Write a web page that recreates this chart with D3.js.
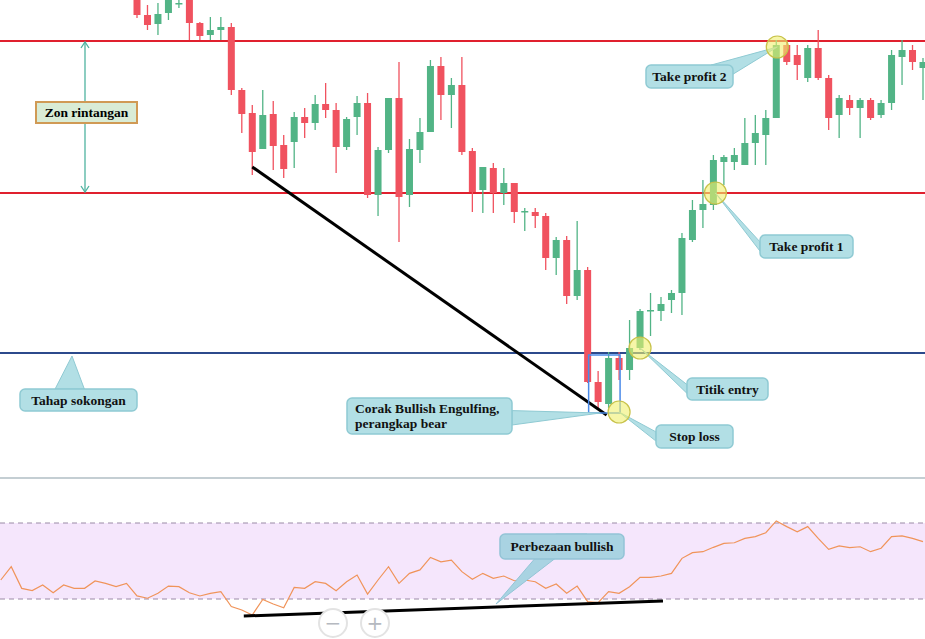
<!DOCTYPE html>
<html><head><meta charset="utf-8">
<script src="https://cdn.jsdelivr.net/npm/d3@7"></script>
<style>body{margin:0;background:#fff}svg{display:block}</style></head>
<body><svg id="c" width="925" height="639"></svg>
<script>
// candle data: [open, high, low, close]
const candles = [
[1000,1002,982,985],[985,995,970,975],[976,997,965,986],[987,1002,980,1000],[996,1001,992,997],
[1002,1006,960,977],[977,978,960,964],[965,983,960,970],[970,983,960,973],[973,977,905,910],
[910,912,867,886],[887,895,825,848],[851,910,851,885],[886,899,830,854],[855,865,822,831],
[858,888,832,883],[883,892,862,877],[877,905,870,896],[896,917,882,890],[890,897,827,853],
[853,883,850,881],[883,904,865,897],[897,907,802,805],[805,853,784,850],[850,902,847,902],
[902,938,758,803],[805,861,793,851],[850,882,837,868],[868,940,868,934],[934,943,880,905],
[905,922,872,915],[915,943,845,848],[849,852,788,808],[810,833,787,833],[832,837,787,807],
[807,832,795,817],[817,817,777,788],[788,792,769,789],[788,792,772,784],[784,787,730,742],
[742,763,725,760],[760,764,696,704],[704,779,700,730],[730,733,617,618],[618,629,590,598],
[596,648,592,642],[642,648,620,630],[630,680,620,652],[652,691,650,689],[689,707,664,690],
[689,703,679,696],[700,710,687,707],[707,767,685,762],[760,800,758,790],[790,820,772,796],
[795,845,790,840],[838,845,815,843],[838,852,830,845],[835,882,835,857],[857,885,835,867],
[865,890,835,882],[882,960,882,955],[955,960,935,938],[945,955,920,935],[922,955,918,952],
[952,970,920,922],[922,925,870,882],[885,905,862,902],[900,905,885,892],[892,902,862,900],
[900,902,880,882],[885,900,882,897],[897,950,890,945],[943,960,915,950],[950,955,930,938],
[932,942,900,938]];
const resistanceLevels = [959, 807];
const supportLevel = 647;
const rsi = [40,47,35.6,34.4,37.4,33.3,37.4,35.6,35.6,39.5,38.2,36.5,38.2,31.6,30.4,33,36.8,36.5,33.3,31.6,33,33.9,26,24.2,21.6,29.8,27.4,25.4,36.1,35.6,39.1,38.2,34.4,39.1,42.6,32.6,40,47,38.2,43.5,45.3,51.9,49.6,50.5,44.4,40.4,43.5,40.9,42.1,39.6,40,39.1,35.6,37.9,33,36.8,28.6,28.1,33.9,33,36.5,41.4,41.4,42.1,43.5,51.4,54.4,54.9,57.2,59.3,59.6,61.9,62.8,64.9,71.1,68.1,65.4,68.1,61.9,56.1,57.9,57,57.5,54.9,56.7,62.8,63.2,61.9,60.2];
const rsiOffset = -13;

const svg = d3.select("#c");
const x = d3.scaleLinear().domain([0, 75]).range([137, 923]);
const y = d3.scaleLinear().domain([361, 1000]).range([639, 0]);
const yr = d3.scaleLinear().domain([0, 100]).range([656, 466]);
const RED="#f0525f", GREEN="#52b486";

const main = svg.append("g");
main.append("defs").append("clipPath").attr("id","cp").append("rect").attr("x",0).attr("y",0).attr("width",925).attr("height",478);
const cg = main.append("g").attr("clip-path","url(#cp)");
resistanceLevels.forEach(v=>cg.append("line").attr("x1",0).attr("x2",925).attr("y1",y(v)).attr("y2",y(v)).attr("stroke","#e0202e").attr("stroke-width",2));
cg.append("line").attr("x1",0).attr("x2",925).attr("y1",y(supportLevel)).attr("y2",y(supportLevel)).attr("stroke","#2c4a8c").attr("stroke-width",2);
candles.forEach((d,i)=>{
  const [o,h,l,c]=d, col=c>=o?GREEN:RED;
  cg.append("line").attr("x1",x(i)).attr("x2",x(i)).attr("y1",y(h)).attr("y2",y(l)).attr("stroke",col).attr("stroke-width",1.3);
  const t=y(Math.max(o,c)), b=y(Math.min(o,c));
  cg.append("rect").attr("x",x(i)-3.5).attr("width",7).attr("y",t).attr("height",Math.max(1.5,b-t)).attr("fill",col);
});
svg.append("line").attr("x1",0).attr("x2",925).attr("y1",478).attr("y2",478).attr("stroke","#b0bec5").attr("stroke-width",1.5);
svg.append("rect").attr("x",0).attr("width",925).attr("y",yr(70)).attr("height",yr(30)-yr(70)).attr("fill","#f5e6fc");
[70,30].forEach(v=>svg.append("line").attr("x1",0).attr("x2",925).attr("y1",yr(v)).attr("y2",yr(v)).attr("stroke","#9a8aa6").attr("stroke-dasharray","5,4"));
svg.append("path").datum(rsi).attr("fill","none").attr("stroke","#f0945a").attr("stroke-width",1.2)
  .attr("d",d3.line().x((d,i)=>x(i+rsiOffset)).y(d=>yr(d)));

svg.append("line").attr("x1",x(11)).attr("y1",y(833)).attr("x2",x(45)-2).attr("y2",y(585)).attr("stroke","#000").attr("stroke-width",3);
svg.append("line").attr("x1",x(23+rsiOffset)+2).attr("y1",616).attr("x2",x(63+rsiOffset)+2).attr("y2",601).attr("stroke","#000").attr("stroke-width",3);

const ac="#4fb3a0";
const arr = svg.append("g").attr("stroke",ac).attr("fill","none").attr("stroke-width",1.3);
arr.append("line").attr("x1",85).attr("x2",85).attr("y1",y(959)+1).attr("y2",y(807)-1);
arr.append("path").attr("d",`M81,${y(959)+7}L85,${y(959)+1}L89,${y(959)+7}`);
arr.append("path").attr("d",`M81,${y(807)-7}L85,${y(807)-1}L89,${y(807)-7}`);

svg.append("rect").attr("x",x(43)+1).attr("y",y(645)).attr("width",x(46)-x(43)).attr("height",y(587)-y(645)).attr("fill","none").attr("stroke","#4a8ae8").attr("stroke-width",1.5);

const font='"Liberation Serif","DejaVu Serif",serif';
function callout(bx,by,bw,bh,lines,px,py,side,fill,stroke){
  const g=svg.append("g");
  let a,b;
  if(side==="v"){a=[bx+bw*0.45,by];b=[bx+bw*0.7,by];}
  else if(side==="l"){a=[bx,by+bh*0.3];b=[bx,by+bh*0.7];}
  else if(side==="r"){a=[bx+bw,by+bh*0.35];b=[bx+bw,by+bh*0.75];}
  else if(side==="tr"){a=[bx+bw*0.75,by];b=[bx+bw,by+bh*0.4];}
  else {a=[bx+bw*0.3,by];b=[bx+bw*0.55,by];}
  g.append("path").attr("d",`M${a[0]},${a[1]}L${px},${py}L${b[0]},${b[1]}Z`).attr("fill",fill).attr("stroke",stroke);
  g.append("rect").attr("x",bx).attr("y",by).attr("width",bw).attr("height",bh).attr("rx",5).attr("fill",fill).attr("stroke",stroke).attr("stroke-width",1.5);
  lines.forEach((t,k)=>g.append("text").attr("x",side==="r"?bx+8:bx+bw/2).attr("y",by+bh/2+4.5+(k-(lines.length-1)/2)*15)
    .attr("text-anchor",side==="r"?"start":"middle").attr("font-family",font).attr("font-weight","bold").attr("font-size",13.5).attr("fill","#111").text(t));
}
const CF="#b2dfe5", CS="#8fcad3";
const circ=[[x(61)+1,y(953)],[x(55)+2,y(807)],[x(48),y(652)],[x(46),y(588)]];
callout(646,65,87,23,["Take profit 2"],circ[0][0],circ[0][1],"tr",CF,CS);
callout(760,235,93,23,["Take profit 1"],circ[1][0],circ[1][1],"l",CF,CS);
callout(687,378,81,22,["Titik entry"],circ[2][0],circ[2][1],"l",CF,CS);
callout(656,425,77,23,["Stop loss"],circ[3][0],circ[3][1],"l",CF,CS);
callout(347,398,165,36,["Corak Bullish Engulfing,","perangkap bear"],x(44)+2,y(587),"r",CF,CS);
callout(20,389,117,22,["Tahap sokongan"],72,356,"t",CF,CS);
callout(500,534,124,25,["Perbezaan bullish"],496,604,"v","#a9d3e2","#93c4d6");
circ.forEach(c=>svg.append("circle").attr("cx",c[0]).attr("cy",c[1]).attr("r",11).attr("fill","rgba(240,240,110,0.6)").attr("stroke","#c8c24a").attr("stroke-width",1.2));

svg.append("rect").attr("x",36).attr("y",102).attr("width",101).attr("height",21).attr("fill","#d9ecd6").attr("stroke","#d09a55").attr("stroke-width",2);
svg.append("text").attr("x",86.5).attr("y",117).attr("text-anchor","middle").attr("font-family",font).attr("font-weight","bold").attr("font-size",13.5).text("Zon rintangan");

[[333,"−"],[375,"+"]].forEach(([cx,t])=>{
  svg.append("circle").attr("cx",cx).attr("cy",623).attr("r",14).attr("fill","#fff").attr("stroke","#e3e3e3").attr("stroke-width",2);
  svg.append("text").attr("x",cx).attr("y",630).attr("text-anchor","middle").attr("font-family","DejaVu Sans").attr("font-size",20).attr("fill","#b5b9c0").text(t);
});
</script></body></html>
